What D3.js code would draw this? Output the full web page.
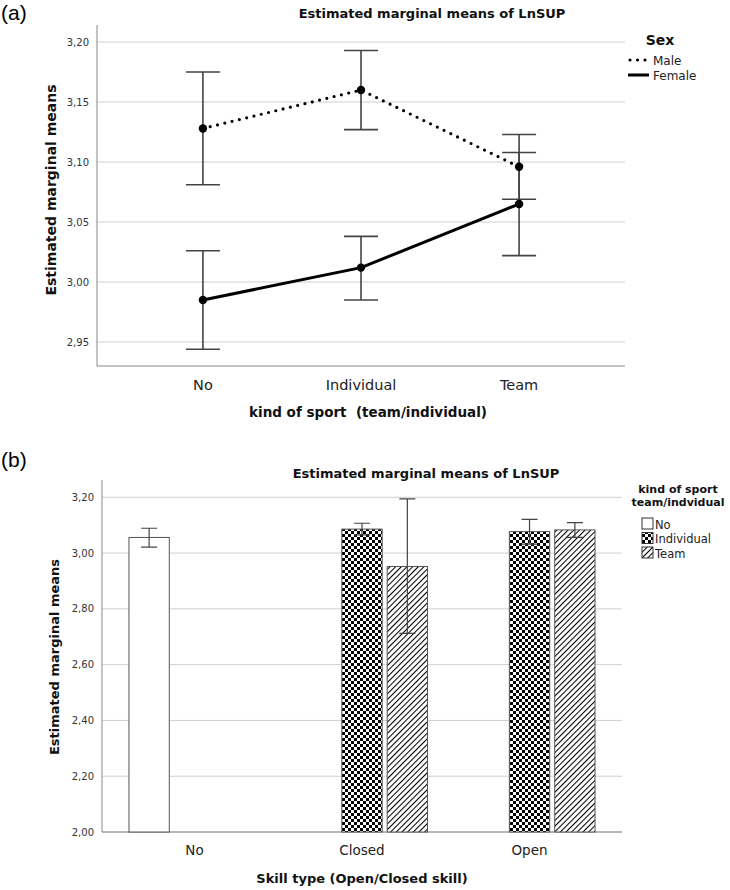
<!DOCTYPE html>
<html>
<head>
<meta charset="utf-8">
<script src="https://d3js.org/d3.v7.min.js"></script>
<style>
    body { margin: 0; background: #fff; }
    svg { display: block; }
    .tick-lbl { font-family: "DejaVu Sans", sans-serif; font-size: 10px; fill: #333; }
    .cat-lbl { font-family: "DejaVu Sans", sans-serif; font-size: 13px; fill: #222; }
    .ttl { font-family: "DejaVu Sans", sans-serif; font-weight: bold; fill: #111; white-space: pre; }
    .grid { stroke: #cfcfcf; stroke-width: 1; }
    .frame { stroke: #888; stroke-width: 1; fill: none; }
</style>
</head>
<body>
<div id="chart"></div>
<script>
    // (a) line chart data
    var sportCats = ["No", "Individual", "Team"];
    var sexNames = ["Male", "Female"];
    var maleMean = [3.128, 3.160, 3.096];
    var maleLow = [3.081, 3.127, 3.069];
    var maleHigh = [3.175, 3.193, 3.123];
    var femaleMean = [2.985, 3.012, 3.065];
    var femaleLow = [2.944, 2.985, 3.022];
    var femaleHigh = [3.026, 3.038, 3.108];
    var topTicks = [2.95, 3.00, 3.05, 3.10, 3.15, 3.20];

    // (b) bar chart data
    var skillCats = ["No", "Closed", "Open"];
    var kindNames = ["No", "Individual", "Team"];
    var barSkill = ["No", "Closed", "Closed", "Open", "Open"];
    var barKind = ["No", "Individual", "Team", "Individual", "Team"];
    var barMean = [3.056, 3.086, 2.952, 3.077, 3.083];
    var barLow = [3.021, 3.065, 2.712, 3.032, 3.056];
    var barHigh = [3.089, 3.107, 3.194, 3.121, 3.109];
    var botTicks = [2.00, 2.20, 2.40, 2.60, 2.80, 3.00, 3.20];

    var fmt = function (v) { return d3.format(".2f")(v).replace(".", ","); };

    var svg = d3.select("#chart").append("svg")
        .attr("width", 730)
        .attr("height", 890);

    var defs = svg.append("defs");
    var checker = defs.append("pattern")
        .attr("id", "checker")
        .attr("patternUnits", "userSpaceOnUse")
        .attr("width", 6).attr("height", 6);
    checker.append("rect").attr("width", 6).attr("height", 6).attr("fill", "#fff");
    checker.append("rect").attr("width", 3).attr("height", 3).attr("fill", "#000");
    checker.append("rect").attr("x", 3).attr("y", 3).attr("width", 3).attr("height", 3).attr("fill", "#000");

    var hatch = defs.append("pattern")
        .attr("id", "hatch")
        .attr("patternUnits", "userSpaceOnUse")
        .attr("width", 4).attr("height", 4)
        .attr("patternTransform", "rotate(45)");
    hatch.append("rect").attr("width", 4).attr("height", 4).attr("fill", "#fff");
    hatch.append("line").attr("x1", 0.5).attr("y1", 0).attr("x2", 0.5).attr("y2", 4)
        .attr("stroke", "#000").attr("stroke-width", 1.1);

    var fills = { "No": "#fff", "Individual": "url(#checker)", "Team": "url(#hatch)" };

    // ---------- (a) ----------
    var a = svg.append("g");
    a.append("text").attr("x", 1).attr("y", 20)
        .style("font-family", "'Liberation Sans', Arial, sans-serif")
        .style("font-size", "21px").text("(a)");

    var xA = d3.scalePoint().domain(sportCats).range([97, 625]).padding(0.67);
    var yA = d3.scaleLinear().domain([2.93, 3.2142]).range([366, 25]);

    a.selectAll("line.grid").data(topTicks).enter().append("line")
        .attr("class", "grid")
        .attr("x1", 97).attr("x2", 625)
        .attr("y1", function (d) { return yA(d); })
        .attr("y2", function (d) { return yA(d); });

    a.append("path").attr("class", "frame")
        .attr("d", "M97," + yA.range()[1] + "V" + yA.range()[0] + "H625");

    a.selectAll("text.tick-lbl").data(topTicks).enter().append("text")
        .attr("class", "tick-lbl")
        .attr("x", 89).attr("y", function (d) { return yA(d) + 3.5; })
        .attr("text-anchor", "end")
        .text(fmt);

    a.selectAll("text.cat-lbl").data(sportCats).enter().append("text")
        .attr("class", "cat-lbl")
        .attr("x", function (d) { return xA(d); }).attr("y", 390)
        .attr("text-anchor", "middle")
        .style("font-size", "14.5px")
        .text(function (d) { return d; });

    a.append("text").attr("class", "ttl").attr("x", 432).attr("y", 18)
        .attr("text-anchor", "middle").style("font-size", "13px")
        .text("Estimated marginal means of LnSUP");
    a.append("text").attr("class", "ttl").attr("x", 368).attr("y", 417)
        .attr("text-anchor", "middle").style("font-size", "13.5px")
        .text("kind of sport  (team/individual)");
    a.append("text").attr("class", "ttl")
        .attr("transform", "translate(56,190) rotate(-90)")
        .attr("text-anchor", "middle").style("font-size", "14px")
        .text("Estimated marginal means");

    var seriesA = [
        { name: "Male", mean: maleMean, lo: maleLow, hi: maleHigh, dash: "0,7.5" },
        { name: "Female", mean: femaleMean, lo: femaleLow, hi: femaleHigh, dash: null }
    ];

    seriesA.forEach(function (s) {
        var g = a.append("g");
        sportCats.forEach(function (c, i) {
            var x = xA(c);
            g.append("path")
                .attr("d", "M" + (x - 17) + "," + yA(s.hi[i]) + "H" + (x + 17) +
                    "M" + x + "," + yA(s.hi[i]) + "V" + yA(s.lo[i]) +
                    "M" + (x - 17) + "," + yA(s.lo[i]) + "H" + (x + 17))
                .attr("stroke", "#444").attr("stroke-width", 1.6).attr("fill", "none");
        });
    });

    seriesA.forEach(function (s) {
        var line = d3.line()
            .x(function (d, i) { return xA(sportCats[i]); })
            .y(function (d) { return yA(d); });
        a.append("path").datum(s.mean)
            .attr("d", line)
            .attr("fill", "none").attr("stroke", "#000")
            .attr("stroke-width", s.dash ? 3.2 : 3)
            .attr("stroke-linecap", "round")
            .attr("stroke-dasharray", s.dash);
        a.selectAll(null).data(s.mean).enter().append("circle")
            .attr("cx", function (d, i) { return xA(sportCats[i]); })
            .attr("cy", function (d) { return yA(d); })
            .attr("r", 4.2).attr("fill", "#000");
    });

    // legend (a)
    a.append("text").attr("class", "ttl").attr("x", 660).attr("y", 45)
        .attr("text-anchor", "middle").style("font-size", "14px").text("Sex");
    sexNames.forEach(function (n, i) {
        var y = 60 + i * 15;
        a.append("line").attr("x1", i ? 628 : 630).attr("x2", 649).attr("y1", y).attr("y2", y)
            .attr("stroke", "#000").attr("stroke-width", i ? 3 : 3.2)
            .attr("stroke-linecap", i ? "butt" : "round")
            .attr("stroke-dasharray", i ? null : "0,7.5");
        a.append("text").attr("class", "cat-lbl").attr("x", 653).attr("y", y + 4.5)
            .style("font-size", "12px").text(n);
    });

    // ---------- (b) ----------
    var b = svg.append("g");
    b.append("text").attr("x", 1).attr("y", 467)
        .style("font-family", "'Liberation Sans', Arial, sans-serif")
        .style("font-size", "21px").text("(b)");

    var xB = d3.scalePoint().domain(skillCats).range([102, 622]).padding(0.552);
    var sub = d3.scaleBand().domain(kindNames).range([-65.5, 65.5]).paddingInner(0.111);
    var yB = d3.scaleLinear().domain([2.0, 3.262]).range([832, 480]);

    b.selectAll("line.grid").data(botTicks).enter().append("line")
        .attr("class", "grid")
        .attr("x1", 102).attr("x2", 622)
        .attr("y1", function (d) { return yB(d); })
        .attr("y2", function (d) { return yB(d); });

    b.append("path").attr("class", "frame")
        .attr("d", "M102," + yB.range()[1] + "V" + yB.range()[0] + "H622");

    b.selectAll("text.tick-lbl").data(botTicks).enter().append("text")
        .attr("class", "tick-lbl")
        .attr("x", 94).attr("y", function (d) { return yB(d) + 3.5; })
        .attr("text-anchor", "end")
        .text(fmt);

    b.selectAll("text.cat-lbl").data(skillCats).enter().append("text")
        .attr("class", "cat-lbl")
        .attr("x", function (d) { return xB(d); }).attr("y", 855)
        .attr("text-anchor", "middle")
        .style("font-size", "13.5px")
        .text(function (d) { return d; });

    b.append("text").attr("class", "ttl").attr("x", 426).attr("y", 478)
        .attr("text-anchor", "middle").style("font-size", "13px")
        .text("Estimated marginal means of LnSUP");
    b.append("text").attr("class", "ttl").attr("x", 362).attr("y", 883)
        .attr("text-anchor", "middle").style("font-size", "13px")
        .text("Skill type (Open/Closed skill)");
    b.append("text").attr("class", "ttl")
        .attr("transform", "translate(59,657) rotate(-90)")
        .attr("text-anchor", "middle").style("font-size", "13px")
        .text("Estimated marginal means");

    var bars = barMean.map(function (m, i) {
        return { skill: barSkill[i], kind: barKind[i], mean: m, lo: barLow[i], hi: barHigh[i] };
    });

    b.selectAll("rect.bar").data(bars).enter().append("rect")
        .attr("class", "bar")
        .attr("x", function (d) { return xB(d.skill) + sub(d.kind); })
        .attr("width", sub.bandwidth())
        .attr("y", function (d) { return yB(d.mean); })
        .attr("height", function (d) { return yB(2.0) - yB(d.mean); })
        .attr("fill", function (d) { return fills[d.kind]; })
        .attr("stroke", "#555").attr("stroke-width", 1);

    b.selectAll("path.err").data(bars).enter().append("path")
        .attr("class", "err")
        .attr("d", function (d) {
            var x = xB(d.skill) + sub(d.kind) + sub.bandwidth() / 2;
            return "M" + (x - 8) + "," + yB(d.hi) + "H" + (x + 8) +
                "M" + x + "," + yB(d.hi) + "V" + yB(d.lo) +
                "M" + (x - 8) + "," + yB(d.lo) + "H" + (x + 8);
        })
        .attr("stroke", "#444").attr("stroke-width", 1.2).attr("fill", "none");

    // legend (b)
    b.append("text").attr("class", "ttl").attr("x", 678).attr("y", 493)
        .attr("text-anchor", "middle").style("font-size", "11px").text("kind of sport");
    b.append("text").attr("class", "ttl").attr("x", 678).attr("y", 506)
        .attr("text-anchor", "middle").style("font-size", "11px").text("team/indvidual");
    kindNames.forEach(function (n, i) {
        var y = 524 + i * 14.5;
        b.append("rect").attr("x", 642).attr("y", y - 6).attr("width", 11).attr("height", 11)
            .attr("fill", fills[n]).attr("stroke", "#333").attr("stroke-width", 1);
        b.append("text").attr("class", "cat-lbl").attr("x", 655).attr("y", y + 4.5)
            .style("font-size", "11.5px").text(n);
    });
</script>
</body>
</html>
